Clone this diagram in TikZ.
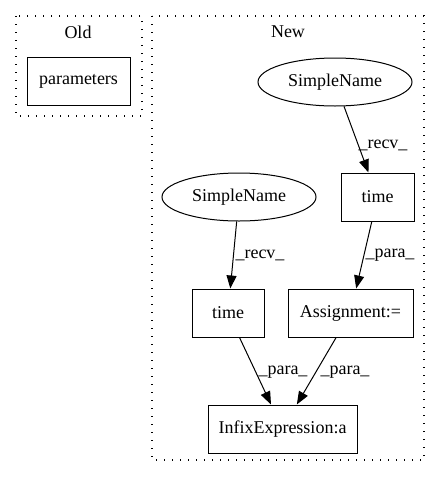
\documentclass[tikz,border=0pt]{standalone}
\usepackage{fontspec}
\setmainfont{Liberation Serif}
\usetikzlibrary{shapes.geometric,arrows.meta}
\begin{document}
\begin{tikzpicture}[x=1pt,y=-1pt,
  every node/.style={font=\fontsize{18}{20}\selectfont},
  box/.style={draw,line width=1pt,rectangle,minimum height=48pt,inner sep=0pt},
  oval/.style={draw,line width=1pt,ellipse,minimum width=154pt,minimum height=48pt,inner sep=0pt},
  cluster/.style={draw,line width=1.3pt,dash pattern=on 1.3pt off 6.7pt},
  edge/.style={line width=1pt,-{Triangle[length=13pt,width=10pt]}},
  lbl/.style={inner sep=0pt}]
\useasboundingbox (0,0) rectangle (440,480);
\draw[cluster] (16,16) rectangle (142,116);
\draw[cluster] (152,16) rectangle (424,460);
\node (old) at (78,32) {Old};
\node (new) at (288,32) {New};
\node[box,minimum width=103pt] (par) at (78.5,81) {parameters};
\node[oval] (s1) at (335,82) {SimpleName};
\node[box,minimum width=73pt] (t1) at (377.5,197) {time};
\node[oval] (s2) at (239,197) {SimpleName};
\node[box,minimum width=72pt] (t2) at (228,313) {time};
\node[box,minimum width=125pt] (as) at (350.5,313) {Assignment:=};
\node[box,minimum width=149pt] (inf) at (282.5,429) {InfixExpression:a};
\draw[edge] (s1) -- (t1);
\draw[edge] (t1) -- (as);
\draw[edge] (s2) -- (t2);
\draw[edge] (t2) -- (inf);
\draw[edge] (as) -- (inf);
\node[lbl] (l1) at (383,145) {\_recv\_};
\node[lbl] (l2) at (260,255) {\_recv\_};
\node[lbl] (l3) at (390,255) {\_para\_};
\node[lbl] (l4) at (283,372) {\_para\_};
\node[lbl] (l5) at (345,372) {\_para\_};
\end{tikzpicture}
\end{document}
